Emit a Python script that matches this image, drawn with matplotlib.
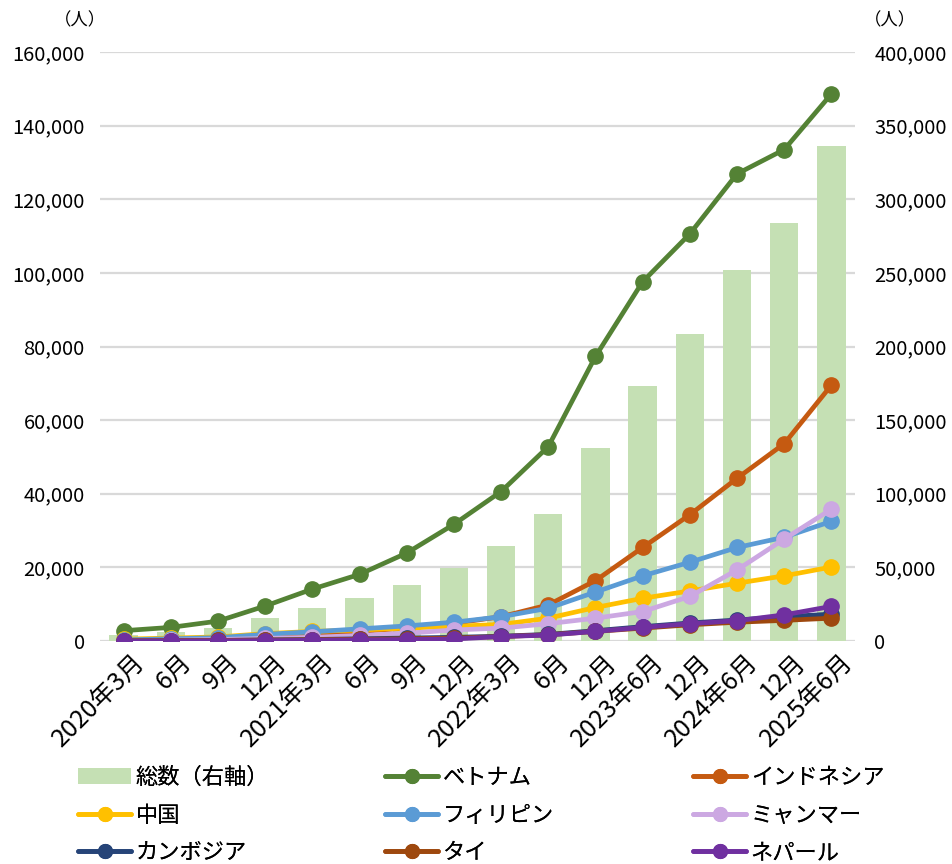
import matplotlib
matplotlib.use("Agg")
import matplotlib.pyplot as plt
from matplotlib.ticker import FuncFormatter, FixedLocator
import matplotlib.transforms as mtransforms

plt.rcParams['font.family'] = ['Noto Sans CJK JP', 'DejaVu Sans']

categories = ["2020年3月", "6月", "9月", "12月", "2021年3月", "6月", "9月", "12月",
              "2022年3月", "6月", "12月", "2023年6月", "12月", "2024年6月", "12月", "2025年6月"]

total = [4000, 5900, 8700, 15600, 22600, 29200, 38200, 49800, 64600, 86500,
         131000, 173200, 208500, 251800, 284000, 336300]

vietnam = [2800, 3700, 5400, 9500, 14100, 18100, 23900, 31700, 40600, 52800,
           77300, 97600, 110600, 126900, 133500, 148600]
indonesia = [300, 500, 700, 1500, 2000, 2600, 3500, 4800, 6600, 9800,
             16400, 25400, 34300, 44200, 53600, 69500]
china = [500, 800, 1100, 2000, 2600, 3000, 3500, 4000, 4500, 6200,
         9100, 11600, 13600, 15700, 17700, 20100]
philippines = [300, 600, 900, 1800, 2500, 3300, 4100, 5100, 6600, 8900,
               13300, 17700, 21400, 25400, 28200, 32500]
myanmar = [100, 200, 400, 700, 1000, 1500, 2100, 3000, 3500, 4700,
           6200, 8000, 12100, 19300, 27700, 35800]
cambodia = [50, 100, 150, 300, 400, 600, 800, 1000, 1300, 1800,
            2800, 3900, 4900, 5700, 6600, 7300]
thai = [50, 100, 150, 250, 350, 450, 600, 800, 1200, 1700,
        2600, 3500, 4400, 5100, 5600, 6200]
nepal = [0, 0, 50, 100, 200, 300, 400, 550, 1200, 1600,
         2600, 3700, 4700, 5500, 7100, 9400]

series = [
    ("ベトナム", vietnam, "#548235"),
    ("インドネシア", indonesia, "#C55A11"),
    ("中国", china, "#FFC000"),
    ("フィリピン", philippines, "#5B9BD5"),
    ("ミャンマー", myanmar, "#CCA8E2"),
    ("カンボジア", cambodia, "#264478"),
    ("タイ", thai, "#9E480E"),
    ("ネパール", nepal, "#7030A0"),
]

fig = plt.figure(figsize=(9.52, 8.64), dpi=100)
ax = fig.add_axes([100/952, 1-641/864, 755/952, 589/864])
ax2 = ax.twinx()

x = list(range(len(categories)))

# bars on right axis (drawn behind)
bars = ax2.bar(x, total, width=0.6, color="#C5E0B4", zorder=2, label="総数（右軸）")
ax2.set_ylim(0, 400000)
ax2.yaxis.set_major_locator(FixedLocator(range(0, 400001, 50000)))
ax2.grid(axis='y', color="#D9D9D9", linewidth=1.6, zorder=0)
ax2.set_axisbelow(True)

handles = {}
for name, vals, col in series:
    h, = ax.plot(x, vals, color=col, linewidth=3.4, marker='o', markersize=11,
                 solid_capstyle='round', label=name, zorder=3)
    handles[name] = h

ax.set_ylim(0, 160000)
ax.set_xlim(-0.5, len(categories) - 0.5)
ax.yaxis.set_major_locator(FixedLocator(range(0, 160001, 20000)))
ax.set_zorder(ax2.get_zorder() + 1)
ax.patch.set_visible(False)

fmt = FuncFormatter(lambda v, p: f"{int(v):,}")
ax.yaxis.set_major_formatter(fmt)
ax2.yaxis.set_major_formatter(fmt)

for a in (ax, ax2):
    for s in a.spines.values():
        s.set_visible(False)
    a.tick_params(length=0, labelsize=14.5, colors="#000000")
ax.tick_params(axis='y', pad=11)
ax2.tick_params(axis='y', pad=14)

ax.set_xticks(x)
ax.set_xticklabels(categories, rotation=45, ha='right', va='top',
                   rotation_mode='anchor', fontsize=18)
ax.tick_params(axis='x', pad=6)
offset = mtransforms.ScaledTranslation(8/100, 0, fig.dpi_scale_trans)
for lbl in ax.get_xticklabels():
    lbl.set_transform(lbl.get_transform() + offset)

fig.text(80/952, 1-20/864, "（人）", ha='center', va='center', fontsize=12.5)
fig.text(890/952, 1-20/864, "（人）", ha='center', va='center', fontsize=12.5)

col_handles = [
    [bars, handles["中国"], handles["カンボジア"]],
    [handles["ベトナム"], handles["フィリピン"], handles["タイ"]],
    [handles["インドネシア"], handles["ミャンマー"], handles["ネパール"]],
]
col_labels = [
    ["総数（右軸）", "中国", "カンボジア"],
    ["ベトナム", "フィリピン", "タイ"],
    ["インドネシア", "ミャンマー", "ネパール"],
]
col_x = [69, 376, 684]
legs = []
for hs, ls, cx in zip(col_handles, col_labels, col_x):
    lg = fig.legend(hs, ls, loc='upper left',
                    bbox_to_anchor=(cx/952, 1-757/864),
                    frameon=False, fontsize=16, handlelength=2.4, handletextpad=0.2,
                    labelspacing=0.66, borderaxespad=0, borderpad=0.4,
                    markerscale=0.9)
    legs.append(lg)
    fig.add_artist(lg)

fig.savefig("out.png", dpi=100)
